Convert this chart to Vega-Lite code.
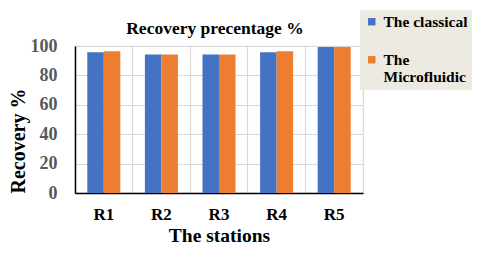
{
  "$schema": "https://vega.github.io/schema/vega-lite/v6.json",
  "width": 288,
  "height": 147,
  "autosize": "none",
  "padding": {"left": 75, "top": 46, "right": 117, "bottom": 70},
  "background": "white",
  "title": {
    "text": "Recovery precentage %",
    "font": "Liberation Serif",
    "fontSize": 17.5,
    "fontWeight": "bold",
    "color": "#000000",
    "anchor": "middle",
    "frame": "group",
    "dx": -4,
    "offset": -27
  },
  "data": {
    "values": [
      {"station": "R1", "method": "The classical", "recovery": 95.8},
      {"station": "R1", "method": "The Microfluidic", "recovery": 96.4},
      {"station": "R2", "method": "The classical", "recovery": 94.3},
      {"station": "R2", "method": "The Microfluidic", "recovery": 94.3},
      {"station": "R3", "method": "The classical", "recovery": 94.3},
      {"station": "R3", "method": "The Microfluidic", "recovery": 94.3},
      {"station": "R4", "method": "The classical", "recovery": 95.8},
      {"station": "R4", "method": "The Microfluidic", "recovery": 96.4},
      {"station": "R5", "method": "The classical", "recovery": 99.3},
      {"station": "R5", "method": "The Microfluidic", "recovery": 99.4}
    ]
  },
  "mark": {"type": "bar"},
  "encoding": {
    "x": {
      "field": "station",
      "type": "nominal",
      "scale": {"paddingInner": 0, "paddingOuter": 0},
      "axis": {
        "title": "The stations",
        "titleFont": "Liberation Serif",
        "titleFontSize": 19.5,
        "titleFontWeight": "bold",
        "titleColor": "#000000",
        "titlePadding": 4,
        "labelFont": "Liberation Serif",
        "labelFontSize": 17,
        "labelFontWeight": "bold",
        "labelColor": "#000000",
        "labelAngle": 0,
        "labelPadding": 13,
        "ticks": false,
        "domainColor": "#000000",
        "domainWidth": 1.5,
        "grid": true,
        "gridColor": "#d9d9d9",
        "gridWidth": 1.2,
        "bandPosition": 0
      }
    },
    "xOffset": {
      "field": "method",
      "type": "nominal",
      "sort": ["The classical", "The Microfluidic"],
      "scale": {"paddingInner": 0, "paddingOuter": 0.745}
    },
    "y": {
      "field": "recovery",
      "type": "quantitative",
      "scale": {"domain": [0, 100]},
      "axis": {
        "title": "Recovery %",
        "titleAnchor": "start",
        "values": [0, 20, 40, 60, 80, 100],
        "titleFont": "Liberation Serif",
        "titleFontSize": 20,
        "titleFontWeight": "bold",
        "titleColor": "#000000",
        "titlePadding": 2,
        "labelFont": "Liberation Serif",
        "labelFontSize": 18,
        "labelFontWeight": "bold",
        "labelColor": "#595959",
        "labelPadding": 18,
        "ticks": false,
        "domainColor": "#000000",
        "domainWidth": 1.5,
        "grid": true,
        "gridColor": "#d9d9d9",
        "gridWidth": 1.2
      }
    },
    "color": {
      "field": "method",
      "type": "nominal",
      "sort": ["The classical", "The Microfluidic"],
      "scale": {"domain": ["The classical", "The Microfluidic"], "range": ["#4472C4", "#ED7D31"]},
      "legend": {
        "title": null,
        "orient": "none",
        "legendX": 285,
        "legendY": -36,
        "fillColor": "#ECEAE1",
        "padding": 4,
        "symbolType": "square",
        "symbolSize": 55,
        "symbolStrokeWidth": 0,
        "labelFont": "Liberation Serif",
        "labelFontSize": 15.5,
        "labelFontWeight": "bold",
        "labelColor": "#000000",
        "labelOffset": 4,
        "rowPadding": 21,
        "labelExpr": "datum.label == 'The Microfluidic' ? ['The', 'Microfluidic'] : datum.label"
      }
    }
  },
  "config": {
    "view": {"stroke": "#d9d9d9", "strokeWidth": 1.2}
  }
}
